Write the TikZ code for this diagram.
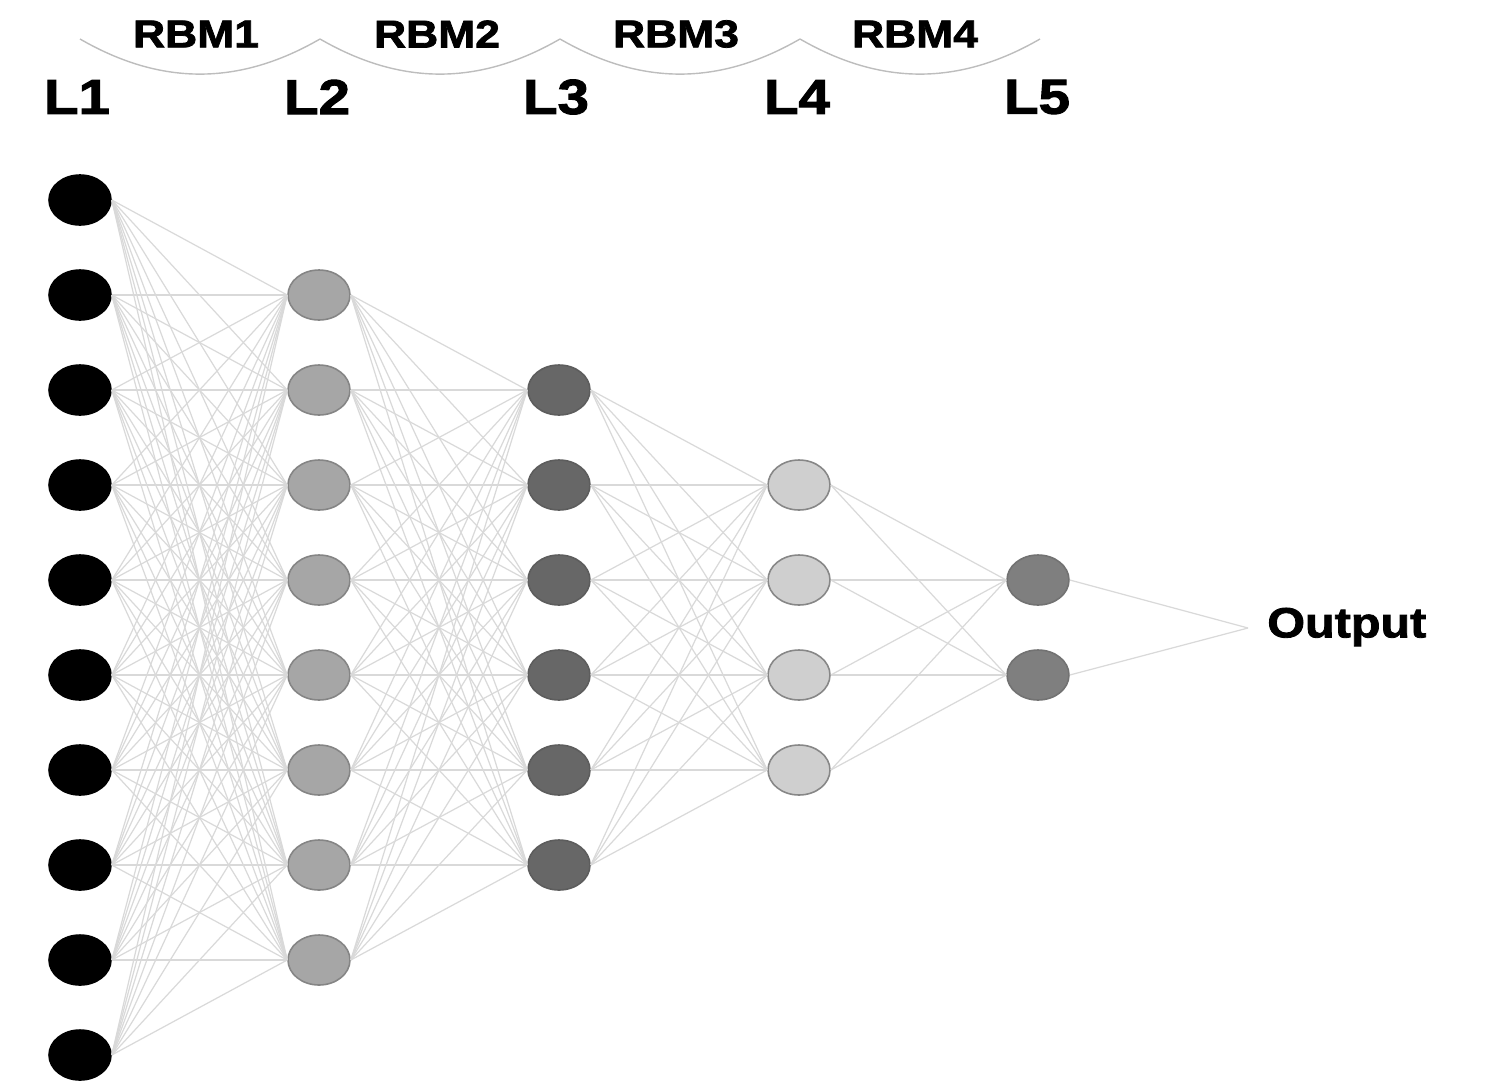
\documentclass[tikz,border=0pt]{standalone}
\usepackage{fontspec}
\usepackage{xcolor}
\usepackage{tikz}
\usetikzlibrary{shapes.geometric, positioning}

\newfontfamily\headfont[FakeStretch=1.15, FakeBold=2]{Liberation Sans}

\definecolor{inputfill}{HTML}{000000}
\definecolor{hidAfill}{HTML}{A6A6A6}
\definecolor{hidBfill}{HTML}{676767}
\definecolor{hidCfill}{HTML}{CFCFCF}
\definecolor{hidDfill}{HTML}{7F7F7F}
\definecolor{edgegray}{HTML}{D9D9D9}
\definecolor{arcgray}{HTML}{BDBDBD}

\begin{document}
\begin{tikzpicture}[
    x=0.02cm, y=0.02cm,
    unit/.style={ellipse, minimum width=1.24cm, minimum height=1.0cm, inner sep=0pt, line width=0.9pt},
    layer_label/.style={font=\headfont\bfseries\fontsize{28}{30}\selectfont, inner sep=0pt},
    rbm_label/.style={font=\headfont\bfseries\fontsize{22}{24}\selectfont, inner sep=0pt},
    link_line/.style={line width=0.7pt, draw=edgegray},
    arc_line/.style={line width=0.8pt, draw=arcgray}
]
    \useasboundingbox (0,0) rectangle (1490,-1082);

    % Layer titles
    \node (lab1) [layer_label] at (77,-97) {L1};
    \node (lab2) [layer_label] at (317,-97) {L2};
    \node (lab3) [layer_label] at (556,-97) {L3};
    \node (lab4) [layer_label] at (797,-97) {L4};
    \node (lab5) [layer_label] at (1037,-97) {L5};

    % RBM braces over the layer pairs
    \coordinate (top1) at (80,-39);
    \coordinate (top2) at (320,-39);
    \coordinate (top3) at (560,-39);
    \coordinate (top4) at (800,-39);
    \coordinate (top5) at (1040,-39);
    \draw [arc_line] (top1) to[bend right=30] (top2);
    \draw [arc_line] (top2) to[bend right=30] (top3);
    \draw [arc_line] (top3) to[bend right=30] (top4);
    \draw [arc_line] (top4) to[bend right=30] (top5);
    \node (rbm1) [rbm_label] at (196,-34) {RBM1};
    \node (rbm2) [rbm_label] at (437,-34) {RBM2};
    \node (rbm3) [rbm_label] at (676,-34) {RBM3};
    \node (rbm4) [rbm_label] at (915,-34) {RBM4};

    % Units of each layer
    \foreach \j in {1,...,10}
        \node (l1-\j) [unit, draw=black, fill=inputfill] at (80,{-105-95*\j}) {};
    \foreach \j in {1,...,8}
        \node (l2-\j) [unit, draw=hidAfill!80!black, fill=hidAfill] at (319,{-200-95*\j}) {};
    \foreach \j in {1,...,6}
        \node (l3-\j) [unit, draw=hidBfill!90!black, fill=hidBfill] at (559,{-295-95*\j}) {};
    \foreach \j in {1,...,4}
        \node (l4-\j) [unit, draw=hidCfill!65!black, fill=hidCfill] at (799,{-390-95*\j}) {};
    \foreach \j in {1,...,2}
        \node (l5-\j) [unit, draw=hidDfill!90!black, fill=hidDfill] at (1038,{-485-95*\j}) {};

    % Full connections between neighbouring layers
    \foreach \i in {1,...,10}
        \foreach \j in {1,...,8}
            \draw [link_line] (l1-\i.east) -- (l2-\j.west);
    \foreach \i in {1,...,8}
        \foreach \j in {1,...,6}
            \draw [link_line] (l2-\i.east) -- (l3-\j.west);
    \foreach \i in {1,...,6}
        \foreach \j in {1,...,4}
            \draw [link_line] (l3-\i.east) -- (l4-\j.west);
    \foreach \i in {1,...,4}
        \foreach \j in {1,...,2}
            \draw [link_line] (l4-\i.east) -- (l5-\j.west);

    % Output
    \coordinate (out) at (1248,-628);
    \draw [link_line] (l5-1.east) -- (out);
    \draw [link_line] (l5-2.east) -- (out);
    \node (out_label) [rbm_label, anchor=west, font=\headfont\bfseries\fontsize{24}{26}\selectfont] at (1267,-627) {Output};
\end{tikzpicture}
\end{document}
